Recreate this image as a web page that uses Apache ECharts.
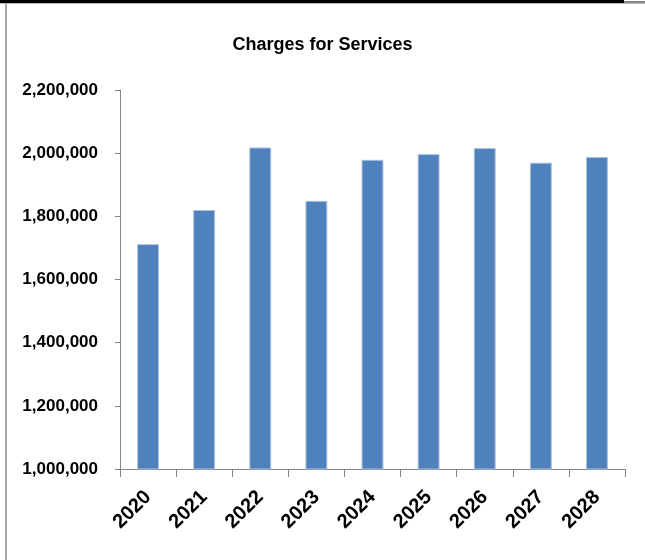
<!DOCTYPE html>
<html>
<head>
<meta charset="utf-8">
<script src="https://cdn.jsdelivr.net/npm/echarts@6/dist/echarts.min.js"></script>
<style>
html,body{margin:0;padding:0;background:#fff;}
#c{width:645px;height:560px;}
</style>
</head>
<body>
<div id="c"></div>
<script>
const categories = ['2020','2021','2022','2023','2024','2025','2026','2027','2028'];
const charges = [1712000, 1820000, 2018000, 1849000, 1979000, 1997000, 2016000, 1970000, 1988000];
const yMin = 1000000, yMax = 2200000, yStep = 200000;
const titleText = 'Charges for Services';

const FONT = '"Liberation Sans Narrow", "Liberation Sans", Arial, sans-serif';
const chart = echarts.init(document.getElementById('c'));
chart.setOption({
  animation: false,
  backgroundColor: '#fff',
  title: {
    text: titleText, left: 'center', top: 31,
    textStyle: {fontFamily: FONT, fontWeight: 'bold', fontSize: 18, color: '#000'}
  },
  grid: {left: 120, right: 20, top: 90, bottom: 91},
  xAxis: {
    type: 'category', data: categories,
    axisLine: {show: true, lineStyle: {color: '#868686', width: 1}},
    axisTick: {show: true, length: 8, alignWithLabel: false, lineStyle: {color: '#868686'}},
    axisLabel: {rotate: 45, margin: 25, fontFamily: FONT, fontWeight: 'bold', fontSize: 20, color: '#000'}
  },
  yAxis: {
    type: 'value', min: yMin, max: yMax, interval: yStep,
    axisLine: {show: true, lineStyle: {color: '#868686', width: 1}},
    axisTick: {show: true, length: 5, lineStyle: {color: '#868686'}},
    splitLine: {show: false},
    axisLabel: {margin: 22, fontFamily: FONT, fontWeight: 'bold', fontSize: 17, color: '#000',
      formatter: v => v.toLocaleString('en-US')}
  },
  series: [{
    type: 'bar', data: charges, barWidth: '39%',
    itemStyle: {color: '#4F81BD', borderColor: '#a9c0de', borderWidth: 1}
  }],
  graphic: [
    {type: 'rect', shape: {x: 0, y: 0, width: 624, height: 3}, style: {fill: '#000'}},
    {type: 'rect', shape: {x: 624, y: 1, width: 21, height: 2}, style: {fill: '#888'}},
    {type: 'rect', shape: {x: 0, y: 3, width: 645, height: 1}, style: {fill: '#bbb'}},
    {type: 'rect', shape: {x: 5, y: 3, width: 2, height: 557}, style: {fill: '#a6a6a6'}}
  ]
});
</script>
</body>
</html>
